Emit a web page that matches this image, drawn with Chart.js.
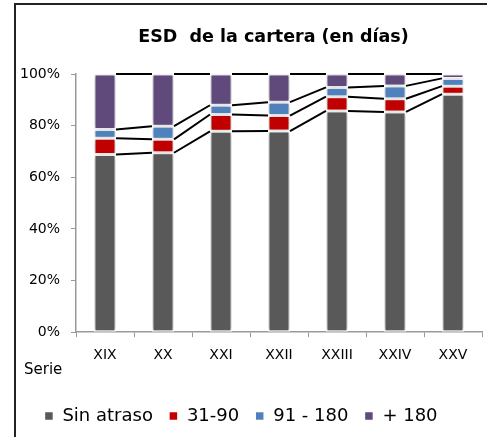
<!DOCTYPE html>
<html>
<head>
<meta charset="utf-8">
<script src="https://cdn.jsdelivr.net/npm/chart.js@4.4.0/dist/chart.umd.min.js"></script>
<style>
  html, body { margin: 0; padding: 0; background: #fff; }
  #frame { position: absolute; left: 14px; top: 3px; width: 480px; height: 440px;
           border-left: 2px solid #222; border-top: 2px solid #222; box-sizing: border-box; }
  #wrap { position: absolute; left: 0; top: 0; width: 487px; height: 437px; }
</style>
</head>
<body>
<div id="frame"></div>
<div id="wrap"><canvas id="c" width="487" height="437"></canvas></div>
<script>
const categories = ['XIX', 'XX', 'XXI', 'XXII', 'XXIII', 'XXIV', 'XXV'];
const sinAtraso  = [68.8, 69.5, 77.8, 77.9, 85.7, 85.3, 92.2];
const d31a90     = [6.3, 5.2, 6.5, 6.0, 5.5, 5.1, 3.1];
const d91a180    = [3.4, 5.1, 3.6, 5.2, 3.6, 5.0, 3.0];
const mas180     = [21.5, 20.2, 12.1, 10.9, 5.2, 4.6, 1.7];
const seriesNames = ['Sin atraso', '31-90', '91 - 180', '+ 180'];
const yTicks = [0, 20, 40, 60, 80, 100];
const titleText = 'ESD  de la cartera (en días)';
const xAxisLabel = 'Serie';

const colors = ['#595959', '#C00000', '#4F81BD', '#604A7B'];
const allSeries = [sinAtraso, d31a90, d91a180, mas180];

const shadowPlugin = {
  id: 'shadow',
  beforeDatasetsDraw(chart) {
    const ctx = chart.ctx;
    ctx.save();
    ctx.shadowColor = 'rgba(0,0,0,0.28)';
    ctx.shadowBlur = 5;
  },
  afterDatasetsDraw(chart) {
    chart.ctx.restore();
  }
};

const seriesLines = {
  id: 'seriesLines',
  afterDatasetsDraw(chart) {
    const ctx = chart.ctx;
    const y = chart.scales.y;
    const n = categories.length;
    ctx.save();
    ctx.strokeStyle = '#000';
    ctx.lineWidth = 2;
    for (let k = 0; k < allSeries.length; k++) {
      const meta = chart.getDatasetMeta(k);
      for (let i = 0; i < n - 1; i++) {
        let c1 = 0, c2 = 0;
        for (let j = 0; j <= k; j++) { c1 += allSeries[j][i]; c2 += allSeries[j][i + 1]; }
        const b1 = meta.data[i], b2 = meta.data[i + 1];
        ctx.beginPath();
        ctx.moveTo(b1.x + b1.width / 2, y.getPixelForValue(c1));
        ctx.lineTo(b2.x - b2.width / 2, y.getPixelForValue(c2));
        ctx.stroke();
      }
    }
    ctx.restore();
  }
};

const textPlugin = {
  id: 'texts',
  afterDraw(chart) {
    const ctx = chart.ctx;
    const xs = chart.scales.x;
    ctx.save();
    ctx.fillStyle = '#000';
    ctx.textBaseline = 'middle';
    // axis caption
    ctx.font = '15px "DejaVu Sans"';
    ctx.textAlign = 'left';
    ctx.fillText(xAxisLabel, xs.left - 52, xs.top + 38);
    // title (original chart frame is wider than the visible crop)
    ctx.font = 'bold 17.5px "DejaVu Sans"';
    ctx.textAlign = 'center';
    ctx.fillText(titleText, chart.width / 2 + 30, 37);
    ctx.restore();
  }
};

new Chart(document.getElementById('c'), {
  type: 'bar',
  data: {
    labels: categories,
    datasets: allSeries.map((d, i) => ({
      label: seriesNames[i],
      data: d,
      backgroundColor: colors[i],
      borderColor: '#ffffff',
      borderWidth: 1.5,
      borderSkipped: false,
      barPercentage: 0.38,
      categoryPercentage: 1.0
    }))
  },
  options: {
    responsive: false,
    animation: false,
    devicePixelRatio: 1,
    layout: { padding: { left: 0, right: 5, top: 74, bottom: 2 } },
    plugins: {
      title: { display: false },
      legend: {
        display: true,
        position: 'bottom',
        labels: {
          color: '#000',
          font: { family: '"DejaVu Sans"', size: 18 },
          boxWidth: 9,
          boxHeight: 9,
          padding: 16
        }
      },
      tooltip: { enabled: false }
    },
    scales: {
      x: {
        stacked: true,
        afterFit(scale) { scale.height += 17; },
        grid: { display: true, drawOnChartArea: false, drawTicks: true, tickLength: 5, color: '#999', offset: true },
        border: { display: true, color: '#999', width: 1.5 },
        ticks: { color: '#000', font: { family: '"DejaVu Sans"', size: 14 }, padding: 10 }
      },
      y: {
        stacked: true,
        min: 0,
        max: 100,
        afterBuildTicks(scale) { scale.ticks = yTicks.map(v => ({ value: v })); },
        afterFit(scale) { scale.width = 76; },
        grid: { display: true, drawOnChartArea: false, drawTicks: true, tickLength: 5, color: '#999' },
        border: { display: true, color: '#999', width: 1.5 },
        ticks: { color: '#000', font: { family: '"DejaVu Sans"', size: 14 }, padding: 11,
                 callback: v => v + '%' }
      }
    }
  },
  plugins: [shadowPlugin, seriesLines, textPlugin]
});
</script>
</body>
</html>
